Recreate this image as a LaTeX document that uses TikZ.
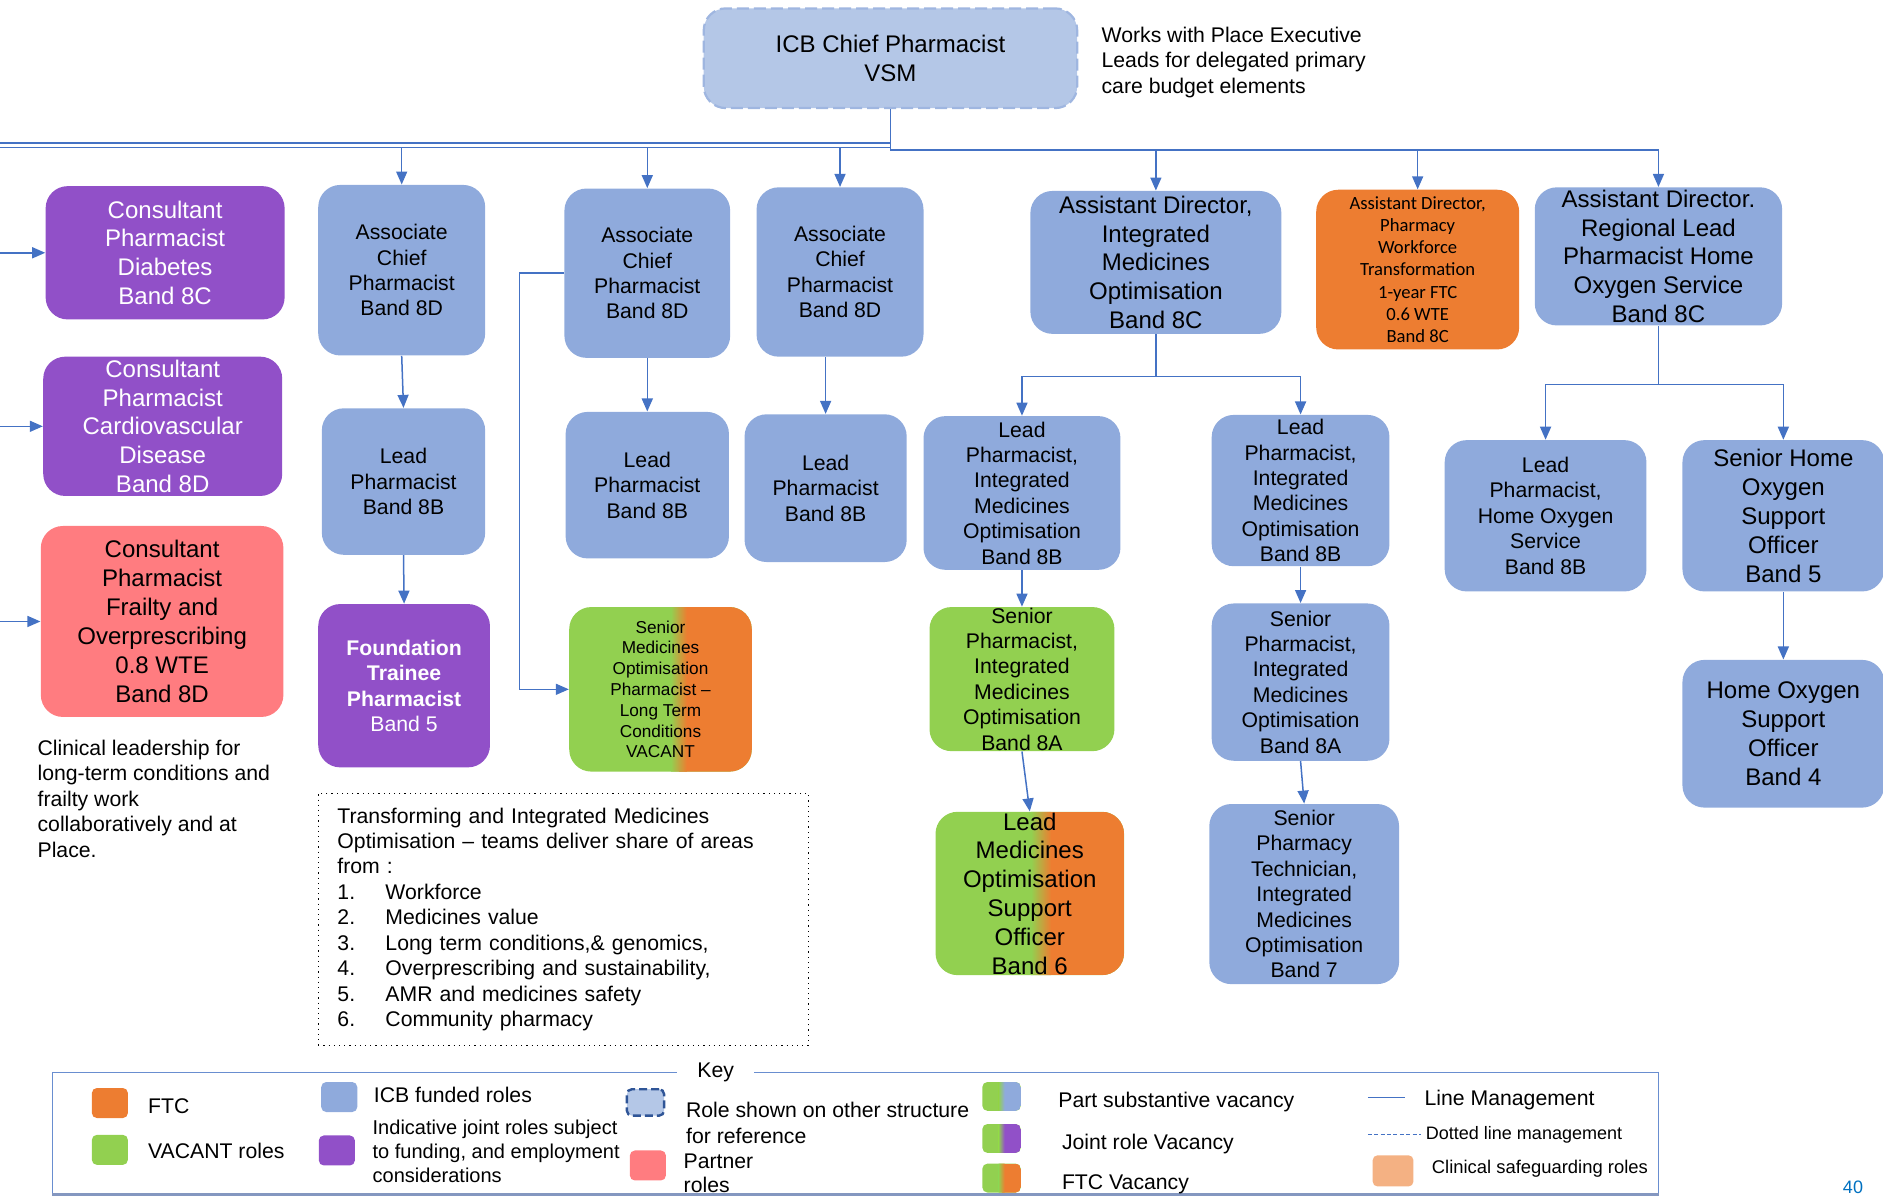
\documentclass[tikz,border=0pt]{standalone}
\usepackage{fontspec}
\setmainfont{Liberation Sans}
\newfontfamily\calfont{Carlito}
\usetikzlibrary{arrows.meta}

\definecolor{icbblue}{HTML}{8FAADC}
\definecolor{refblue}{HTML}{B4C7E7}
\definecolor{refdash}{HTML}{9FB6E0}
\definecolor{keydash}{HTML}{2F5597}
\definecolor{jointpurple}{HTML}{9150C8}
\definecolor{partnerpink}{HTML}{FF7C80}
\definecolor{ftcorange}{HTML}{ED7D31}
\definecolor{vacgreen}{HTML}{92D050}
\definecolor{safepeach}{HTML}{F4B183}
\definecolor{linkblue}{HTML}{4472C4}
\definecolor{keyedge}{HTML}{8497C0}
\definecolor{pageblue}{HTML}{0070C0}

\newcommand\fbig{\fontsize{12}{14.4}\selectfont}
\newcommand\fmid{\fontsize{10.6}{12.7}\selectfont}
\newcommand\fsmall{\fontsize{8.6}{10.4}\selectfont}
\newcommand\fcal{\calfont\fontsize{9.3}{11.1}\selectfont}

\tikzset{
  wh/.style 2 args={minimum width=#1*0.6pt, minimum height=#2*0.6pt},
  role/.style={rounded corners=11pt, align=center, inner sep=0pt, font=\fmid},
  icbrole/.style={role, fill=icbblue},
  jointrole/.style={role, fill=jointpurple, text=white, font=\fbig},
  partnerrole/.style={role, fill=partnerpink, font=\fbig},
  ftcrole/.style={role, fill=ftcorange, font=\fcal},
  vacrole/.style={role, fill=vacgreen},
  % green on the left, #1 on the right, blended round #2 over 2x#3
  splitfill/.style n args={3}{fill=vacgreen, path picture={
    \path (path picture bounding box.south west) -- (path picture bounding box.south east) coordinate[pos=#2] (sfb);
    \path (path picture bounding box.north west) -- (path picture bounding box.north east) coordinate[pos=#2] (sft);
    \fill[#1, sharp corners] (sfb) rectangle (path picture bounding box.north east);
    \shade[sharp corners, left color=vacgreen, right color=#1] ([xshift=-#3]sfb) rectangle ([xshift=#3]sft);
  }},
  mgmt/.style={draw=linkblue, line width=0.75pt},
  mgmtarrow/.style={mgmt, -{Triangle[length=6.5pt,width=5.5pt]}},
  swatch/.style={rounded corners=2.5pt, inner sep=0pt},
  keytext/.style={anchor=west, inner sep=0pt, align=left, font=\fmid},
}

\begin{document}
\begin{tikzpicture}[x=0.6pt, y=-0.6pt, font=\fmid]
  \useasboundingbox (0,0) rectangle (1568,996);

  % top of the structure
  \node[role, fill=refblue, draw=refdash, line width=1.1pt, dash pattern=on 6pt off 2.5pt,
        font=\fbig, wh={311}{83}] (icb) at (741.5,48.5) {ICB Chief Pharmacist\\VSM};
  \node[anchor=west, align=left, inner sep=0pt] (worksnote) at (917,52)
    {Works with Place Executive\\Leads for delegated primary\\care budget elements};

  % partner and joint consultant roles
  \node[jointrole, wh={199}{111}] (diab) at (137.5,210.5) {Consultant\\Pharmacist\\Diabetes\\Band 8C};
  \node[jointrole, wh={199}{116}] (cvd) at (135.5,355) {Consultant\\Pharmacist\\Cardiovascular\\Disease\\Band 8D};
  \node[partnerrole, wh={202}{159}] (frail) at (135,517.5)
    {Consultant\\Pharmacist\\Frailty and\\Overprescribing\\0.8 WTE\\Band 8D};
  \node[anchor=north west, align=left, inner sep=0pt] (clinnote) at (31,616)
    {Clinical leadership for\\long-term conditions and\\frailty work\\collaboratively and at\\Place.};

  % associate chief pharmacists
  \node[icbrole, wh={139}{142}] (assocA) at (334.5,225) {Associate\\Chief\\Pharmacist\\Band 8D};
  \node[icbrole, wh={136}{122}] (leadA) at (336,401) {Lead\\Pharmacist\\Band 8B};
  \node[jointrole, font=\fmid, wh={143}{136}] (found) at (336.5,571)
    {\textbf{Foundation}\\\textbf{Trainee}\\\textbf{Pharmacist}\\Band 5};
  \node[icbrole, wh={138}{141}] (assocB) at (539,227.5) {Associate\\Chief\\Pharmacist\\Band 8D};
  \node[icbrole, wh={136}{122}] (leadB) at (539,404) {Lead\\Pharmacist\\Band 8B};
  \node[role, splitfill={ftcorange}{0.6}{4pt}, font=\fsmall, wh={152}{137}] (smoLTC) at (550,574)
    {Senior\\Medicines\\Optimisation\\Pharmacist –\\Long Term\\Conditions\\VACANT};
  \node[icbrole, wh={139}{141}] (assocC) at (699.5,226.5) {Associate\\Chief\\Pharmacist\\Band 8D};
  \node[icbrole, wh={135}{123}] (leadC) at (687.5,406.5) {Lead\\Pharmacist\\Band 8B};

  % assistant directors
  \node[icbrole, font=\fbig, wh={209}{119}] (adIMO) at (962.5,218.5)
    {Assistant Director,\\Integrated\\Medicines\\Optimisation\\Band 8C};
  \node[ftcrole, wh={169}{133}] (adPWT) at (1180.5,224.5)
    {Assistant Director,\\Pharmacy\\Workforce\\Transformation\\1-year FTC\\0.6 WTE\\Band 8C};
  \node[icbrole, font=\fbig, wh={206}{115}] (adReg) at (1381,213.5)
    {Assistant Director.\\Regional Lead\\Pharmacist Home\\Oxygen Service\\Band 8C};

  % integrated medicines optimisation teams
  \node[icbrole, wh={164}{128}] (leadIMO1) at (851,410.5)
    {Lead\\Pharmacist,\\Integrated\\Medicines\\Optimisation\\Band 8B};
  \node[vacrole, wh={154}{120}] (snrIMO1) at (851,565.5)
    {Senior\\Pharmacist,\\Integrated\\Medicines\\Optimisation\\Band 8A};
  \node[role, splitfill={ftcorange}{0.56}{5pt}, font=\fbig, wh={157}{136}] (lmoso) at (857.5,744)
    {Lead\\Medicines\\Optimisation\\Support\\Officer\\Band 6};
  \node[icbrole, wh={148}{126}] (leadIMO2) at (1083,408.5)
    {Lead\\Pharmacist,\\Integrated\\Medicines\\Optimisation\\Band 8B};
  \node[icbrole, wh={148}{131}] (snrIMO2) at (1083,568)
    {Senior\\Pharmacist,\\Integrated\\Medicines\\Optimisation\\Band 8A};
  \node[icbrole, wh={158}{150}] (spt) at (1086,744.5)
    {Senior\\Pharmacy\\Technician,\\Integrated\\Medicines\\Optimisation\\Band 7};

  % home oxygen service
  \node[icbrole, wh={168}{126}] (leadHOS) at (1287,429.5) {Lead\\Pharmacist,\\Home Oxygen\\Service\\Band 8B};
  \node[icbrole, font=\fbig, wh={168}{126}] (snrHOSO) at (1485,429.5) {Senior Home\\Oxygen\\Support\\Officer\\Band 5};
  \node[icbrole, font=\fbig, wh={168}{123}] (hoso) at (1485,611) {Home Oxygen\\Support\\Officer\\Band 4};

  \node[draw, dotted, line width=0.6pt, wh={408}{210}, text width=225.6pt, align=left,
        inner xsep=9.6pt] (areas) at (469,765.5)
    {Transforming and Integrated Medicines\\Optimisation – teams deliver share of areas\\from :\\
     \makebox[24pt][l]{1.}Workforce\\\makebox[24pt][l]{2.}Medicines value\\
     \makebox[24pt][l]{3.}Long term conditions,\& genomics,\\
     \makebox[24pt][l]{4.}Overprescribing and sustainability,\\
     \makebox[24pt][l]{5.}AMR and medicines safety\\\makebox[24pt][l]{6.}Community pharmacy};

  % line management
  \coordinate (leftedge) at (0,0);
  \coordinate (busup) at (0,119);
  \coordinate (buslow) at (0,123);
  \draw[mgmt] (icb.south) -- ++(0,34) coordinate (bus);
  \draw[mgmt] (busup) -- (busup -| bus);
  \draw[mgmt] (buslow) -- (buslow -| bus);
  \draw[mgmtarrow] (bus) -| (adReg.north);
  \foreach \n in {assocA,assocB,assocC}
    \draw[mgmtarrow] (\n.north |- buslow) -- (\n.north);
  \foreach \n in {adIMO,adPWT}
    \draw[mgmtarrow] (\n.north |- bus) -- (\n.north);
  \foreach \n in {diab,cvd,frail}
    \draw[mgmtarrow] (\n.west -| leftedge) -- (\n.west);

  \draw[mgmtarrow] (assocA.south) -- (leadA.north);
  \draw[mgmtarrow] (leadA.south) -- (found.north);
  \draw[mgmtarrow] (assocB.south) -- (leadB.north);
  \draw[mgmtarrow] (assocB.west) -- ++(-37,0) |- (smoLTC.west);
  \draw[mgmtarrow] (assocC.south -| leadC.north) -- (leadC.north);

  \draw[mgmt] (adIMO.south) -- ++(0,35) coordinate (imofork);
  \draw[mgmtarrow] (imofork) -| (leadIMO1.north);
  \draw[mgmtarrow] (imofork) -| (leadIMO2.north);
  \draw[mgmtarrow] (leadIMO1.south) -- (snrIMO1.north);
  \draw[mgmtarrow] (snrIMO1.south) -- (lmoso.north);
  \draw[mgmtarrow] (leadIMO2.south) -- (snrIMO2.north);
  \draw[mgmtarrow] (snrIMO2.south) -- (spt.north);

  \draw[mgmt] (adReg.south) -- ++(0,49) coordinate (regfork);
  \draw[mgmtarrow] (regfork) -| (leadHOS.north);
  \draw[mgmtarrow] (regfork) -| (snrHOSO.north);
  \draw[mgmtarrow] (snrHOSO.south) -- (hoso.north);

  % key
  \node[draw=linkblue!80, line width=0.6pt, wh={1337}{101}] (keyframe) at (712.5,943.5) {};
  \draw[keyedge, line width=1.4pt] (keyframe.south west) -- (keyframe.south east);
  \node[fill=white, inner xsep=10pt, inner ysep=1pt] (keytitle) at (596,893) {Key};

  \foreach \nm/\sx/\sy/\col/\lx/\ly/\txt in {ftc/91.5/918.5/ftcorange/123/921/FTC,
      vac/91.5/957.5/vacgreen/123/958/VACANT roles, icb/282.5/913.5/icbblue/311/912/ICB funded roles,
      joint/280.5/958/jointpurple/310/959/{}, partner/539.5/970.5/partnerpink/569/980/{}} {
    \node[swatch, fill=\col, wh={30}{25}] (key-\nm) at (\sx,\sy) {};
    \node[keytext] (lbl-\nm) at (\lx,\ly) {\txt};
  }
  \node[keytext, font=\fontsize{10}{12}\selectfont] (lbl-jointtxt) at (310,959)
    {Indicative joint roles subject\\to funding, and employment\\considerations};
  \node[keytext, font=\fontsize{10.6}{11.6}\selectfont] (lbl-partnertxt) at (569,977) {Partner\\roles};
  \node[swatch, fill=refblue, draw=keydash, line width=1.2pt, dash pattern=on 4pt off 2pt,
        wh={31}{22}] (key-other) at (537.5,918) {};
  \node[keytext, font=\fontsize{10.6}{13.2}\selectfont] (lbl-other) at (571,935)
    {Role shown on other structure\\for reference};

  \foreach \nm/\sy/\col/\lx/\txt in {partsub/913/icbblue/881/Part substantive vacancy,
      jointvac/948/jointpurple/884/Joint role Vacancy, ftcvac/981/ftcorange/884/FTC Vacancy} {
    \node[swatch, splitfill={\col}{0.5}{1.5pt}, wh={32}{24}] (key-\nm) at (834,\sy) {};
    \node[keytext] (lbl-\nm) at (\lx,\sy+5) {\txt};
  }

  \coordinate (lmA) at (1139,914);
  \coordinate (lmB) at (1170,914);
  \draw[mgmt] (lmA) -- (lmB);
  \node[keytext] (lbl-line) at (1186,916) {Line Management};
  \coordinate (dlA) at (1139,945);
  \coordinate (dlB) at (1183,945);
  \draw[mgmt, line width=0.6pt, dash pattern=on 2pt off 1.2pt] (dlA) -- (dlB);
  \node[keytext, font=\fontsize{9}{11}\selectfont] (lbl-dotted) at (1187,945) {Dotted line management};
  \node[swatch, fill=safepeach, wh={34}{26}] (key-safe) at (1160,975) {};
  \node[keytext, font=\fontsize{9.2}{11}\selectfont] (lbl-safe) at (1192,973) {Clinical safeguarding roles};

  \node[text=pageblue, font=\fontsize{9}{11}\selectfont] (pagenum) at (1543,989) {40};
\end{tikzpicture}
\end{document}
